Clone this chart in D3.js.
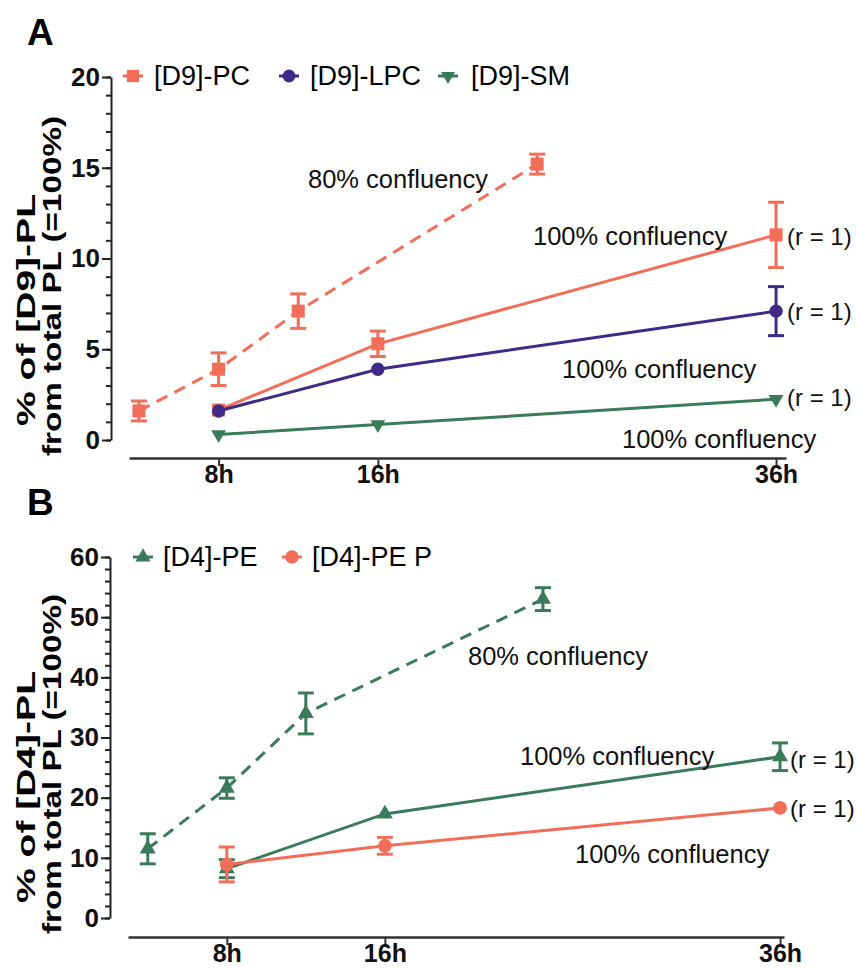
<!DOCTYPE html>
<html>
<head>
<meta charset="utf-8">
<script src="https://cdn.jsdelivr.net/npm/d3@7"></script>
<style>
  body { margin: 0; background: #fff; }
  svg { font-family: "Liberation Sans", Arial, sans-serif; }
</style>
</head>
<body>
<svg id="chart" width="857" height="969"></svg>
<script>
// ---- panel A data ----
var timesA80 = [4, 8, 12, 24];
var timesA100 = [8, 16, 36];
var pc80 = [1.6, 3.9, 7.1, 15.2];
var pc80Err = [0.55, 0.9, 0.95, 0.55];
var pc100 = [1.65, 5.3, 11.3];
var pc100Err = [0, 0.7, 1.8];
var lpc100 = [1.6, 3.9, 7.1];
var lpc100Err = [0, 0, 1.35];
var sm100 = [0.3, 0.85, 2.25];
var sm100Err = [0, 0, 0];

// ---- panel B data ----
var timesB80 = [4, 8, 12, 24];
var timesB100 = [8, 16, 36];
var pe80 = [11.5, 21.6, 34.0, 53.0];
var pe80Err = [2.5, 1.7, 3.4, 1.9];
var pe100 = [8.2, 17.3, 26.8];
var pe100Err = [1.5, 0, 2.3];
var pep100 = [8.9, 12.0, 18.3];
var pep100Err = [2.9, 1.4, 0];

var xTicks = [8, 16, 36];

var orange = "#f26e58", purple = "#3f2a87", green = "#3a7b5a";

var svg = d3.select("#chart");

function drawPanel(p) {
    var g = svg.append("g");
    var x = d3.scaleLinear().domain(p.xDomain).range(p.xRange);
    var y = d3.scaleLinear().domain(p.yDomain).range(p.yRange);

    // panel letter
    g.append("text").attr("x", 27).attr("y", p.letterY)
        .attr("font-size", 37).attr("font-weight", "bold").text(p.letter);

    // y axis: minor ticks then major
    g.append("g").attr("transform", "translate(" + p.yAxisX + ",0)")
        .call(d3.axisLeft(y).tickValues(d3.range(p.yDomain[0], p.yDomain[1] + 0.01, p.minor))
            .tickFormat("").tickSize(5).tickSizeOuter(0))
        .call(function (a) { a.select(".domain").remove(); });
    var ya = g.append("g").attr("transform", "translate(" + p.yAxisX + ",0)")
        .call(d3.axisLeft(y).tickValues(d3.range(p.yDomain[0], p.yDomain[1] + 0.01, p.major))
            .tickSize(9).tickSizeOuter(0).tickPadding(2));
    ya.selectAll("text").attr("font-size", 26).attr("font-weight", "bold")
        .attr("font-family", "Liberation Sans, Arial, sans-serif").attr("fill", "#111");
    g.selectAll(".tick line, .domain").attr("stroke", "#222").attr("stroke-width", 2);

    // x axis
    var xa = g.append("g").attr("transform", "translate(0," + p.xAxisY + ")")
        .call(d3.axisBottom(x).tickValues(xTicks).tickFormat(function (d) { return d + "h"; })
            .tickSize(8).tickSizeOuter(0).tickPadding(-1));
    xa.select(".domain").attr("stroke", "#333").attr("stroke-width", 2.5);
    xa.selectAll(".tick line").attr("stroke", "#333").attr("stroke-width", 2);
    xa.selectAll("text").attr("font-size", 25).attr("font-weight", "bold")
        .attr("font-family", "Liberation Sans, Arial, sans-serif").attr("fill", "#111");

    // y axis title, two lines
    p.yTitle.forEach(function (t) {
        g.append("text")
            .attr("transform", "translate(" + t.x + "," + t.cy + ") rotate(-90)")
            .attr("text-anchor", "middle").attr("font-size", 25).attr("font-weight", "bold")
            .attr("textLength", t.len).attr("lengthAdjust", "spacingAndGlyphs")
            .text(t.text);
    });

    // series
    p.series.forEach(function (s) {
        var pts = s.times.map(function (t, i) { return { t: t, v: s.values[i], e: s.err[i] }; });
        var line = d3.line().x(function (d) { return x(d.t); }).y(function (d) { return y(d.v); });
        g.append("path").datum(pts).attr("d", line).attr("fill", "none")
            .attr("stroke", s.color).attr("stroke-width", 3)
            .attr("stroke-dasharray", s.dashed ? "12,8" : null);

        var eb = g.append("g").attr("stroke", s.color).attr("stroke-width", 3);
        pts.filter(function (d) { return d.e > 0; }).forEach(function (d) {
            var cx = x(d.t);
            eb.append("line").attr("x1", cx).attr("x2", cx).attr("y1", y(d.v - d.e)).attr("y2", y(d.v + d.e));
            eb.append("line").attr("x1", cx - 8).attr("x2", cx + 8).attr("y1", y(d.v - d.e)).attr("y2", y(d.v - d.e));
            eb.append("line").attr("x1", cx - 8).attr("x2", cx + 8).attr("y1", y(d.v + d.e)).attr("y2", y(d.v + d.e));
        });

        var sym = d3.symbol().type(s.symbol).size(s.size);
        g.selectAll(null).data(pts).enter().append("path")
            .attr("d", sym)
            .attr("transform", function (d) {
                return "translate(" + x(d.t) + "," + y(d.v) + ")" + (s.flip ? " rotate(180)" : "");
            })
            .attr("fill", s.color);
    });

    // legend
    p.legend.forEach(function (l) {
        g.append("line").attr("x1", l.x - 10).attr("x2", l.x + 10).attr("y1", p.legendY).attr("y2", p.legendY)
            .attr("stroke", l.color).attr("stroke-width", 3);
        g.append("path").attr("d", d3.symbol().type(l.symbol).size(l.size))
            .attr("transform", "translate(" + l.x + "," + p.legendY + ")" + (l.flip ? " rotate(180)" : ""))
            .attr("fill", l.color);
        g.append("text").attr("x", l.tx).attr("y", p.legendY + 9).attr("font-size", 27).text(l.label);
    });

    // annotations
    p.notes.forEach(function (n) {
        g.append("text").attr("x", n.x).attr("y", n.y).attr("font-size", n.size || 25.5)
            .attr("fill", "#111").text(n.text);
    });
}

drawPanel({
    letter: "A", letterY: 45,
    xDomain: [3.5, 36.5], xRange: [129, 786], xAxisY: 458,
    yDomain: [0, 20], yRange: [440, 77], yAxisX: 111, major: 5, minor: 1,
    yTitle: [
        { text: "% of [D9]-PL", x: 35, cy: 310, len: 232 },
        { text: "from total PL (=100%)", x: 61, cy: 286, len: 340 }
    ],
    series: [
        { times: timesA80, values: pc80, err: pc80Err, color: orange, dashed: true, symbol: d3.symbolSquare, size: 170 },
        { times: timesA100, values: pc100, err: pc100Err, color: orange, symbol: d3.symbolSquare, size: 170 },
        { times: timesA100, values: lpc100, err: lpc100Err, color: purple, symbol: d3.symbolCircle, size: 140 },
        { times: timesA100, values: sm100, err: sm100Err, color: green, symbol: d3.symbolTriangle, size: 95, flip: true }
    ],
    legendY: 76,
    legend: [
        { x: 133, tx: 154, color: orange, symbol: d3.symbolSquare, size: 150, label: "[D9]-PC" },
        { x: 289, tx: 310, color: purple, symbol: d3.symbolCircle, size: 130, label: "[D9]-LPC" },
        { x: 448, tx: 471, color: green, symbol: d3.symbolTriangle, size: 85, flip: true, label: "[D9]-SM" }
    ],
    notes: [
        { x: 308, y: 188, text: "80% confluency" },
        { x: 533, y: 245, text: "100% confluency" },
        { x: 787, y: 245, text: "(r = 1)", size: 24 },
        { x: 787, y: 320, text: "(r = 1)", size: 24 },
        { x: 562, y: 378, text: "100% confluency" },
        { x: 787, y: 406, text: "(r = 1)", size: 24 },
        { x: 622, y: 448, text: "100% confluency" }
    ]
});

drawPanel({
    letter: "B", letterY: 515,
    xDomain: [3, 36.2], xRange: [128, 784], xAxisY: 937,
    yDomain: [0, 60], yRange: [918, 557], yAxisX: 110, major: 10, minor: 2,
    yTitle: [
        { text: "% of [D4]-PL", x: 35, cy: 787, len: 232 },
        { text: "from total PL (=100%)", x: 61, cy: 764, len: 340 }
    ],
    series: [
        { times: timesB80, values: pe80, err: pe80Err, color: green, dashed: true, symbol: d3.symbolTriangle, size: 110 },
        { times: timesB100, values: pe100, err: pe100Err, color: green, symbol: d3.symbolTriangle, size: 110 },
        { times: timesB100, values: pep100, err: pep100Err, color: orange, symbol: d3.symbolCircle, size: 150 }
    ],
    legendY: 557,
    legend: [
        { x: 143, tx: 163, color: green, symbol: d3.symbolTriangle, size: 100, label: "[D4]-PE" },
        { x: 292, tx: 312, color: orange, symbol: d3.symbolCircle, size: 140, label: "[D4]-PE P" }
    ],
    notes: [
        { x: 468, y: 665, text: "80% confluency" },
        { x: 520, y: 765, text: "100% confluency" },
        { x: 790, y: 768, text: "(r = 1)", size: 24 },
        { x: 790, y: 817, text: "(r = 1)", size: 24 },
        { x: 575, y: 863, text: "100% confluency" }
    ]
});
</script>
</body>
</html>
